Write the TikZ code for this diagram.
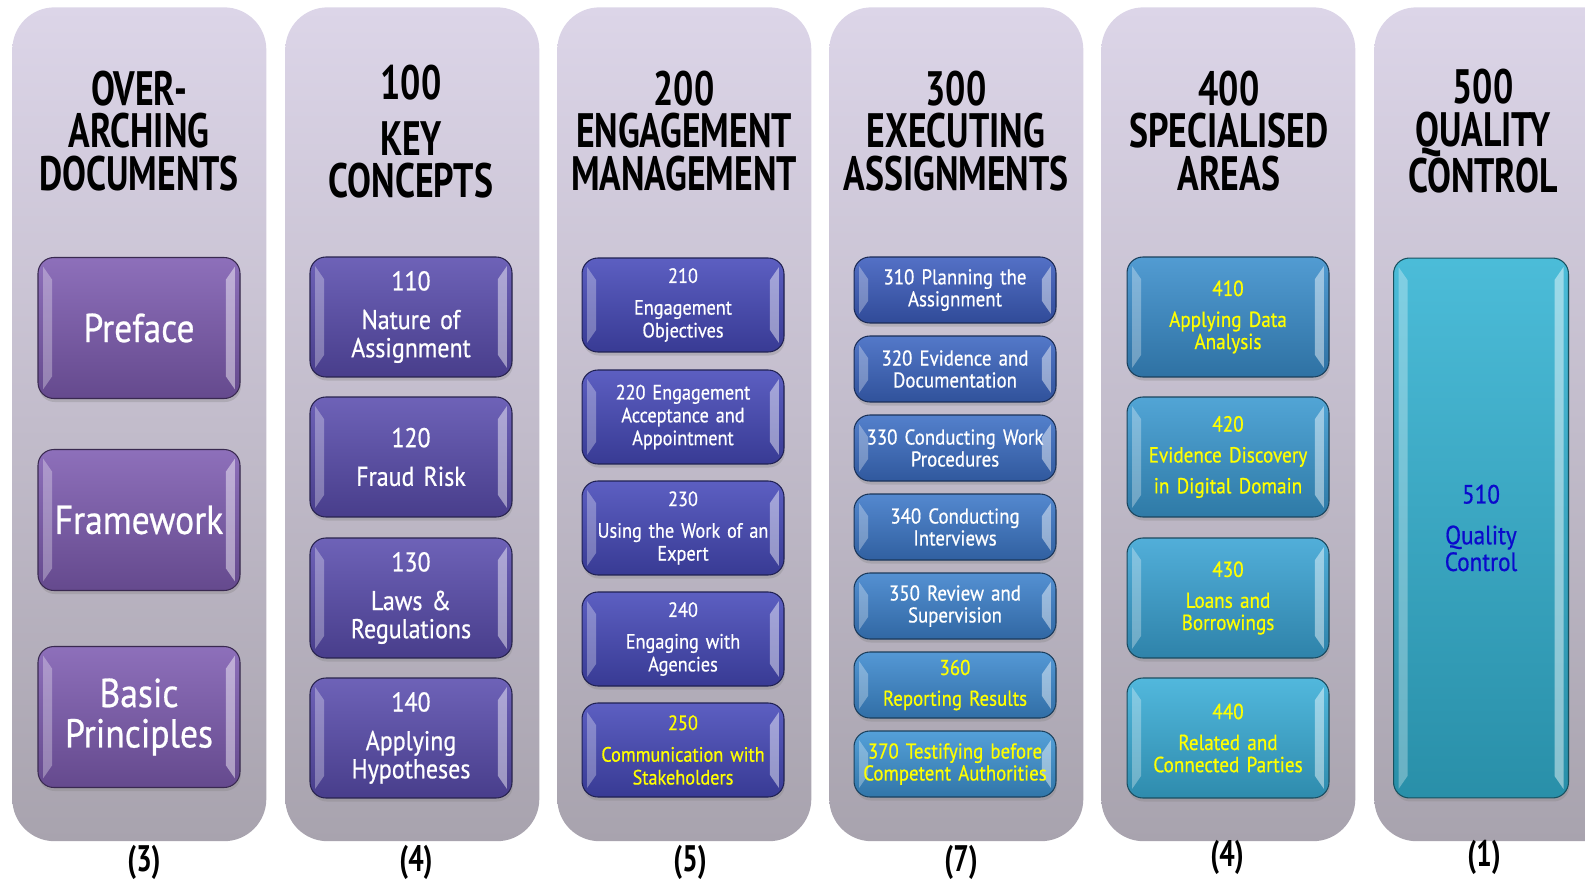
\documentclass[tikz,border=0pt]{standalone}
\usepackage{fontspec}
\setmainfont[FakeStretch=0.88, FakeBold=0.6]{PT Sans}
\newfontfamily\headfont[FakeStretch=0.74]{PT Sans}
\usetikzlibrary{calc,shadows}
\definecolor{colbgtop}{HTML}{DCD5E8}
\definecolor{colbgbot}{HTML}{A8A3AE}
\definecolor{ovpurple}{HTML}{7E5CB1}
\definecolor{keypurple}{HTML}{5A4DAE}
\definecolor{engindigo}{HTML}{4649B9}
\definecolor{exblueA}{HTML}{3C5DBE}
\definecolor{exblueB}{HTML}{3D93D3}
\definecolor{spblueA}{HTML}{3A8ECC}
\definecolor{spblueB}{HTML}{3AAED8}
\definecolor{qcteal}{HTML}{33B3D3}
\definecolor{qctext}{HTML}{0A0ACC}
\definecolor{hiyellow}{HTML}{FFFF00}

\begin{document}
\begin{tikzpicture}[x=0.02cm, y=0.02cm,
  column/.style={rounded corners=24, top color=colbgtop, bottom color=colbgbot,
    minimum width=5.08cm, minimum height=16.68cm, anchor=north west, inner sep=0pt},
  head/.style={font=\headfont\bfseries\fontsize{27.5}{24.4}\selectfont, align=center, text=black},
  count/.style={font=\headfont\bfseries\fontsize{21}{21}\selectfont, text=black},
  bevel/.style={path picture={
    \fill[white, opacity=0.3, sharp corners] ($(path picture bounding box.north west)+(5,-9)$) -- ($(path picture bounding box.north west)+(14,-22)$)
      -- ($(path picture bounding box.south west)+(14,22)$) -- ($(path picture bounding box.south west)+(5,9)$) -- cycle;
    \fill[white, opacity=0.45, sharp corners] ($(path picture bounding box.north east)+(-5,-9)$) -- ($(path picture bounding box.north east)+(-14,-22)$)
      -- ($(path picture bounding box.south east)+(-14,22)$) -- ($(path picture bounding box.south east)+(-5,9)$) -- cycle;}},
  tile/.style={rounded corners=9, top color=#1!88!white, bottom color=#1!80!black, draw=#1!45!black,
    line width=0.6pt, minimum width=4.04cm, text width=3.9cm, align=center, inner sep=0pt, text=white,
    drop shadow={opacity=0.3, shadow xshift=0.5pt, shadow yshift=-2pt}, bevel},
  ovbox/.style={tile=#1, minimum height=2.82cm, font=\fontsize{23}{23}\selectfont},
  keybox/.style={tile=#1, minimum height=2.40cm, font=\fontsize{15.5}{16}\selectfont},
  engbox/.style={tile=#1, minimum height=1.88cm, font=\fontsize{11.8}{13}\selectfont},
  exbox/.style={tile=#1, minimum height=1.32cm, font=\fontsize{12.2}{12.5}\selectfont},
  spbox/.style={tile=#1, minimum height=2.40cm, font=\fontsize{12.4}{12.6}\selectfont, text=hiyellow},
  qcbox/.style={tile=#1, minimum width=3.5cm, text width=3.3cm, minimum height=10.8cm,
    font=\fontsize{15}{15.2}\selectfont, text=qctext}]
\path[use as bounding box, clip] (0,0) rectangle (1585,-879);

% Column panels
\node[column] (col0) at (12,-7) {};
\node[column] (col1) at (285,-7) {};
\node[column] (col2) at (557,-7) {};
\node[column] (col3) at (829,-7) {};
\node[column] (col4) at (1101,-7) {};
\node[column] (col5) at (1374,-7) {};

% Column headings
\node[head] (h0) at (139,-131) {OVER-\\ARCHING\\DOCUMENTS};
\node[head] (h1) at (411,-132) {100\\[7pt]KEY\\CONCEPTS};
\node[head] (h2) at (684,-131) {200\\ENGAGEMENT\\MANAGEMENT};
\node[head] (h3) at (956,-131) {300\\EXECUTING\\ASSIGNMENTS};
\node[head] (h4) at (1229,-131) {400\\SPECIALISED\\AREAS};
\node[head] (h5) at (1483,-131) {500\\QUALITY\\CONTROL};

% Over-arching documents
\node[ovbox=ovpurple] (pre) at (139,-328) {Preface};
\node[ovbox=ovpurple] (fw) at (139,-520) {Framework};
\node[ovbox=ovpurple] (bp) at (139,-717) {Basic\\Principles};

% Key concepts
\node[keybox=keypurple] (b110) at (411,-317) {110\\[6pt]Nature of\\Assignment};
\node[keybox=keypurple] (b120) at (411,-457) {120\\[6pt]Fraud Risk};
\node[keybox=keypurple] (b130) at (411,-598) {130\\[6pt]Laws \&\\Regulations};
\node[keybox=keypurple] (b140) at (411,-738) {140\\[6pt]Applying\\Hypotheses};

% Engagement management
\node[engbox=engindigo] (b210) at (683,-305) {210\\[5pt]Engagement\\Objectives};
\node[engbox=engindigo] (b220) at (683,-417) {220 Engagement\\Acceptance and\\Appointment};
\node[engbox=engindigo] (b230) at (683,-528) {230\\[5pt]Using the Work of an\\Expert};
\node[engbox=engindigo] (b240) at (683,-639) {240\\[5pt]Engaging with\\Agencies};
\node[engbox=engindigo, text=hiyellow] (b250) at (683,-750) {250\\[5pt]Communication with\\Stakeholders};

% Executing assignments
\node[exbox=exblueB!0!exblueA] (b310) at (955,-290) {310 Planning the\\Assignment};
\node[exbox=exblueB!17!exblueA] (b320) at (955,-369) {320 Evidence and\\Documentation};
\node[exbox=exblueB!33!exblueA] (b330) at (955,-448) {330 Conducting Work\\Procedures};
\node[exbox=exblueB!50!exblueA] (b340) at (955,-527) {340 Conducting\\Interviews};
\node[exbox=exblueB!67!exblueA] (b350) at (955,-606) {350 Review and\\Supervision};
\node[exbox=exblueB!83!exblueA, text=hiyellow] (b360) at (955,-685) {360\\[5pt]Reporting Results};
\node[exbox=exblueB, text=hiyellow] (b370) at (955,-764) {370 Testifying before\\Competent Authorities};

% Specialised areas
\node[spbox=spblueB!0!spblueA] (b410) at (1228,-317) {410\\[5pt]Applying Data\\Analysis};
\node[spbox=spblueB!33!spblueA] (b420) at (1228,-457) {420\\[5pt]Evidence Discovery\\[5pt]in Digital Domain};
\node[spbox=spblueB!67!spblueA] (b430) at (1228,-598) {430\\[5pt]Loans and\\Borrowings};
\node[spbox=spblueB] (b440) at (1228,-738) {440\\[5pt]Related and\\Connected Parties};

% Quality control
\node[qcbox=qcteal] (b510) at (1481,-528) {510\\[8pt]Quality\\Control};

% Document counts
\node[count] (n0) at (144,-862) {(3)};
\node[count] (n1) at (416,-862) {(4)};
\node[count] (n2) at (690,-862) {(5)};
\node[count] (n3) at (961,-862) {(7)};
\node[count] (n4) at (1227,-857) {(4)};
\node[count] (n5) at (1484,-857) {(1)};
\end{tikzpicture}
\end{document}
